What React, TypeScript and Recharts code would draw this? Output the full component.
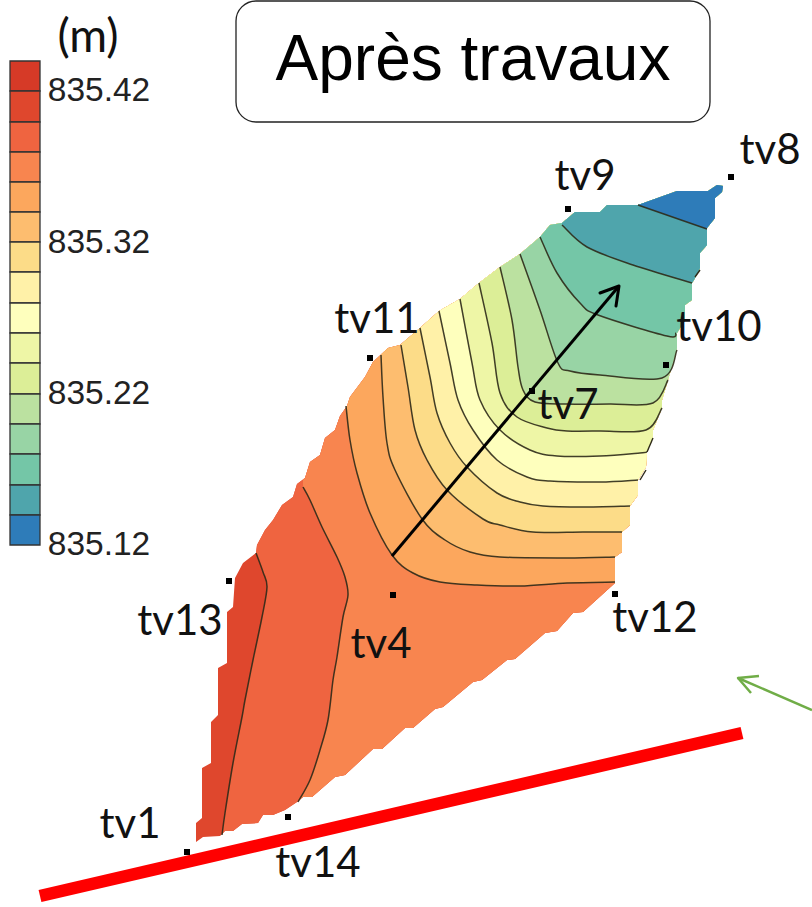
import React from "react";
import { ScatterChart, Scatter, XAxis, YAxis, ReferenceArea } from "recharts";

type P = [number, number];

const W = 812;
const H = 907;

const outline: P[] = [
  [196,842],[196,823],[202,818],[202,768],[211,763],[211,722],[218,715],[218,668],[227,663],[227,612],[233,607],[235,578],[243,563],[256,553],[257,545],[265,530],[273,520],[282,505],[293,497],[297,484],[305,478],[310,462],[320,455],[325,438],[335,430],[340,416],[347,406],[350,397],[365,377],[373,362],[388,348],[400,345],[420,328],[439,311],[460,299],[479,283],[500,267],[520,254],[540,237],[550,225],[562,223],[575,212],[600,212],[607,205],[638,205],[677,191],[708,191],[717,185],[723,186],[722,192],[715,198],[715,218],[707,228],[707,245],[700,253],[700,268],[694,280],[692,283],[692,300],[685,305],[685,320],[677,333],[677,348],[668,380],[662,400],[662,408],[653,430],[653,438],[647,452],[646,467],[638,480],[638,495],[630,506],[630,525],[622,532],[622,552],[615,557],[615,583],[583,612],[573,613],[557,631],[545,633],[515,659],[507,660],[482,680],[473,682],[443,707],[435,709],[413,728],[405,728],[382,749],[373,749],[345,775],[335,777],[312,797],[303,797],[297,802],[285,810],[273,815],[263,815],[258,823],[242,824],[233,831],[225,831],[220,836],[203,837],
];

const c1: P[] = [[256,553],[263,572],[267,587],[262,617],[253,660],[245,700],[242,717],[233,763],[225,813],[222,835]];
const c2: P[] = [[303,487],[310,500],[322,527],[337,557],[345,577],[348,595],[343,617],[337,657],[333,680],[328,720],[320,750],[310,780],[298,802]];
const c3: P[] = [[346,406],[350,440],[357,473],[370,513],[392,555],[413,573],[440,582],[477,585],[520,586],[567,583],[615,582]];
const c4: P[] = [[381,355],[383,397],[387,443],[395,470],[422,519],[445,540],[470,552],[500,557],[567,558],[615,557]];
const c5: P[] = [[401,345],[408,387],[415,430],[427,460],[447,490],[483,519],[500,525],[533,532],[583,532],[622,532]];
const c6: P[] = [[420,328],[430,377],[437,413],[450,443],[467,467],[497,493],[520,502],[543,506],[583,507],[630,506]];
const c7: P[] = [[439,311],[450,363],[458,400],[473,430],[497,460],[527,477],[550,481],[600,482],[638,480]];
const c8: P[] = [[460,299],[472,363],[480,400],[500,430],[530,450],[557,456],[600,456],[640,453],[647,452]];
const c9: P[] = [[479,283],[492,343],[500,393],[517,417],[547,428],[567,431],[600,431],[646,430],[662,408]];
const c10: P[] = [[500,267],[512,320],[518,367],[523,390],[535,402],[567,404],[610,404],[653,403],[668,380]];
const c11: P[] = [[520,254],[540,310],[558,363],[570,371],[600,375],[662,378],[677,350]];
const c12: P[] = [[540,237],[557,273],[580,303],[598,315],[667,336],[676,333]];
const c13: P[] = [[562,225],[587,247],[633,265],[692,283]];
const c14: P[] = [[638,205],[707,229]];

const contours: P[][] = [c1, c2, c3, c4, c5, c6, c7, c8, c9, c10, c11, c12, c13, c14];
const stubs: P[][] = [
  [[695,277],[700,270]],
  [[647,452],[653,438]],
  [[640,480],[646,470]],
];

const palette = [
  "#d63a27","#df472d","#ef6440","#f8854f","#fca75d","#fdbd6f","#fcdc88","#fff1a8",
  "#feffbd","#eef6a6","#dcee97","#bbe1a0","#98d4a5","#74c6a7","#4fa5ac","#2e7cb9",
];
const cellEdges = [61,91,122,152,182,212,242,272,303,333,363,394,424,454,485,515,545];

const stations: { name: string; mark: P; label: P }[] = [
  { name: "tv1", mark: [187,852], label: [130,822] },
  { name: "tv14", mark: [288,817], label: [318,861] },
  { name: "tv4", mark: [393,595], label: [381,642] },
  { name: "tv12", mark: [615,594], label: [655,616] },
  { name: "tv13", mark: [229,581], label: [180,619] },
  { name: "tv11", mark: [370,358], label: [377,317] },
  { name: "tv9", mark: [568,209], label: [585,174] },
  { name: "tv8", mark: [731,177], label: [770,148] },
  { name: "tv10", mark: [666,365], label: [719,325] },
  { name: "tv7", mark: [532,391], label: [568,403] },
];

const scaleLabels: { text: string; at: P }[] = [
  { text: "835.42", at: [99,89] },
  { text: "835.32", at: [99,241] },
  { text: "835.22", at: [99,392] },
  { text: "835.12", at: [99,543] },
];
const unitLabel: P = [88,34];
const titleText = "Après travaux";
const titleAt: P = [473,58];

const redLine: P[] = [[40,896],[742,733]];
const blackShaft: P[] = [[392,556],[619,286]];
const blackHead: P[] = [[600,293],[619,286],[616,306]];
const greenShaft: P[] = [[812,710],[738,678]];
const greenHead: P[] = [[759,676],[738,678],[751,693]];

const toRows = (pts: P[]) => pts.map(([x, y]) => ({ x, y }));

const smooth = (pts: { x: number; y: number }[]) => {
  let d = `M${pts[0].x},${pts[0].y}`;
  for (let i = 0; i < pts.length - 1; i++) {
    const p0 = pts[Math.max(i - 1, 0)];
    const p1 = pts[i];
    const p2 = pts[i + 1];
    const p3 = pts[Math.min(i + 2, pts.length - 1)];
    const c1x = p1.x + (p2.x - p0.x) / 6;
    const c1y = p1.y + (p2.y - p0.y) / 6;
    const c2x = p2.x - (p3.x - p1.x) / 6;
    const c2y = p2.y - (p3.y - p1.y) / 6;
    d += `C${c1x},${c1y} ${c2x},${c2y} ${p2.x},${p2.y}`;
  }
  return d;
};

const straight = (pts: { x: number; y: number }[]) =>
  pts.map((p, i) => `${i ? "L" : "M"}${p.x},${p.y}`).join("");

const noDot = () => <g />;

const band = (pts: P[]) => {
  const first = pts[0];
  const last = pts[pts.length - 1];
  return [...pts, [W, last[1]], [W, 100], [first[0], 100]] as P[];
};

const sans = "'Liberation Sans', Arial, sans-serif";
const lato = "Lato, sans-serif";

const textAt = (text: string, size: number, family: string, fill: string) => (props: any) => (
  <text
    x={props.cx}
    y={props.cy}
    textAnchor="middle"
    dominantBaseline="central"
    fontSize={size}
    fontFamily={family}
    fill={fill}
  >
    {text}
  </text>
);

const stroked = (pts: P[], color: string, width: number, cap = "butt", key?: string) => (
  <Scatter
    key={key}
    data={toRows(pts)}
    dataKey="y"
    isAnimationActive={false}
    shape={noDot}
    line={(p: any) => (
      <path
        d={straight(p.points)}
        fill="none"
        stroke={color}
        strokeWidth={width}
        strokeLinecap={cap as any}
        strokeLinejoin="round"
      />
    )}
  />
);

export default function App() {
  return (
    <div style={{ position: "absolute", left: 0, top: 0, width: W, height: H, background: "#fff" }}>
      <ScatterChart width={W} height={H} margin={{ top: 0, right: 0, bottom: 0, left: 0 }}>
        <XAxis type="number" dataKey="x" domain={[0, W]} hide allowDataOverflow />
        <YAxis type="number" dataKey="y" domain={[0, H]} reversed hide allowDataOverflow />

        <ReferenceArea
          x1={236}
          x2={710}
          y1={1}
          y2={122}
          radius={20}
          fill="#fff"
          fillOpacity={1}
          stroke="#222"
          strokeWidth={1.3}
        />
        {palette.map((c, i) => (
          <ReferenceArea
            key={c}
            x1={10}
            x2={40}
            y1={cellEdges[i]}
            y2={cellEdges[i + 1]}
            fill={c}
            fillOpacity={1}
            stroke="#333"
            strokeWidth={1.3}
          />
        ))}

        <Scatter
          data={toRows(outline)}
          dataKey="y"
          isAnimationActive={false}
          shape={noDot}
          line={(p: any) => (
            <g>
              <defs>
                <clipPath id="siteOutline">
                  <path d={straight(p.points) + "Z"} />
                </clipPath>
              </defs>
              <path d={straight(p.points) + "Z"} fill={palette[1]} stroke="none" />
            </g>
          )}
        />
        {contours.map((c, i) => (
          <Scatter
            key={`band${i}`}
            data={toRows(band(c))}
            dataKey="y"
            isAnimationActive={false}
            shape={noDot}
            line={(p: any) => {
              const curve = p.points.slice(0, c.length);
              const rest = p.points.slice(c.length);
              const d = smooth(curve) + rest.map((q: any) => `L${q.x},${q.y}`).join("") + "Z";
              return <path d={d} fill={palette[i + 2]} stroke="none" clipPath="url(#siteOutline)" />;
            }}
          />
        ))}
        {contours.map((c, i) => (
          <Scatter
            key={`line${i}`}
            data={toRows(c)}
            dataKey="y"
            isAnimationActive={false}
            shape={noDot}
            line={(p: any) => (
              <path d={smooth(p.points)} fill="none" stroke="#2e2a18" strokeOpacity={0.9} strokeWidth={1.5} />
            )}
          />
        ))}
        {stubs.map((s, i) => stroked(s, "#2e2a18", 1.4, "butt", `stub${i}`))}

        {stroked(redLine, "#ff0000", 12.5)}
        {stroked(blackShaft, "#000", 3)}
        {stroked(blackHead, "#000", 3, "round")}
        {stroked(greenShaft, "#70ad47", 2.5)}
        {stroked(greenHead, "#70ad47", 2.5)}

        <Scatter
          data={toRows(stations.map((s) => s.mark))}
          dataKey="y"
          isAnimationActive={false}
          shape={(p: any) => <rect x={p.cx - 3} y={p.cy - 3} width={6} height={6} fill="#000" />}
        />
        {stations.map((s) => (
          <Scatter
            key={s.name}
            data={toRows([s.label])}
            dataKey="y"
            isAnimationActive={false}
            shape={textAt(s.name, 42, lato, "#111")}
          />
        ))}
        {scaleLabels.map((s) => (
          <Scatter
            key={s.text}
            data={toRows([s.at])}
            dataKey="y"
            isAnimationActive={false}
            shape={textAt(s.text, 33.5, sans, "#222")}
          />
        ))}
        <Scatter
          data={toRows([unitLabel])}
          dataKey="y"
          isAnimationActive={false}
          shape={textAt("(m)", 46, lato, "#111")}
        />
        <Scatter
          data={toRows([titleAt])}
          dataKey="y"
          isAnimationActive={false}
          shape={textAt(titleText, 64, sans, "#000")}
        />
      </ScatterChart>
    </div>
  );
}
